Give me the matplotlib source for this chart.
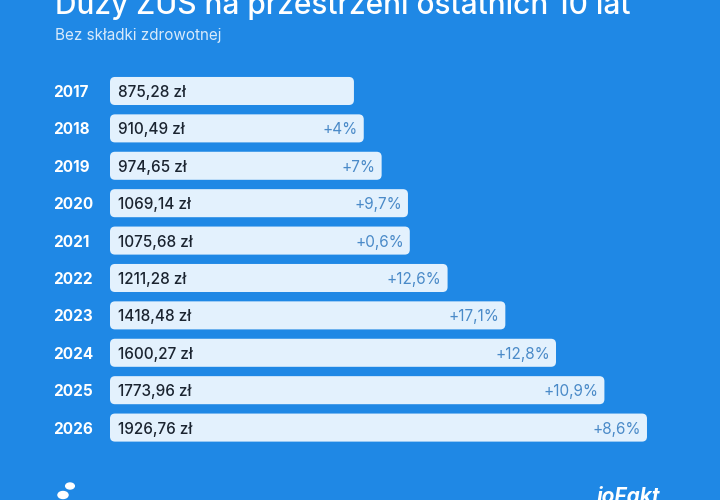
import matplotlib
matplotlib.use("Agg")
import matplotlib.pyplot as plt
from matplotlib.patches import FancyBboxPatch
from matplotlib.transforms import blended_transform_factory

# Duży ZUS (bez składki zdrowotnej), zł
years = ["2017", "2018", "2019", "2020", "2021", "2022", "2023", "2024", "2025", "2026"]
values = [875.28, 910.49, 974.65, 1069.14, 1075.68, 1211.28, 1418.48, 1600.27, 1773.96, 1926.76]
changes = ["", "+4%", "+7%", "+9,7%", "+0,6%", "+12,6%", "+17,1%", "+12,8%", "+10,9%", "+8,6%"]

title = "Duży ZUS na przestrzeni ostatnich 10 lat"
subtitle = "Bez składki zdrowotnej"

BG = "#1f88e5"
BAR = "#e3f1fd"
DARK = "#1b2430"
PCT = "#4a8ac8"

plt.rcParams["font.family"] = ["Inter", "DejaVu Sans"]

fig = plt.figure(figsize=(7.2, 5.0), dpi=100, facecolor=BG)

# axes: left edge = bar start (110 px), rows 37.4 px apart
ax = fig.add_axes([110 / 720, 50 / 500, 610 / 720, 380 / 500])
ax.set_facecolor(BG)
ax.set_xlim(0, 610 / 0.2787)
ax.set_ylim(-0.561 + 380 / 37.4, -0.561)
ax.axis("off")

bar_h = 0.75
rx = 18.0          # rounding in zł units
aspect = (5 / 37.4) / rx

for i, (yr, v, ch) in enumerate(zip(years, values, changes)):
    p = FancyBboxPatch((0, i - bar_h / 2), v, bar_h,
                       boxstyle=f"round,pad=0,rounding_size={rx}",
                       mutation_aspect=aspect, fc=BAR, ec="none")
    ax.add_patch(p)
    val_txt = f"{v:.2f}".replace(".", ",") + " zł"
    ax.text(30, i, val_txt, ha="left", va="center_baseline", fontsize=11,
            color=DARK, fontweight="medium")
    if ch:
        ax.text(v - 21, i, ch, ha="right", va="center_baseline", fontsize=11,
                color=PCT)

trans = blended_transform_factory(fig.transFigure, ax.transData)
for i, yr in enumerate(years):
    ax.text(53 / 720, i, yr, transform=trans, ha="left", va="center_baseline",
            fontsize=11, color="white", fontweight="bold")

fig.text(55 / 720, 1 - 14 / 500, title, ha="left", va="baseline",
         fontsize=21.5, color="white", fontweight="medium")
fig.text(55 / 720, 1 - 40 / 500, subtitle, ha="left", va="baseline",
         fontsize=11, color="#d8eafb")

# footer marks
fig.text(597 / 720, 1 - 487 / 500, "ioFakt", ha="left", va="top",
         fontsize=15, color="white", fontweight="bold", style="italic")
fig.patches.append(plt.Circle((70 / 720, 1 - 486 / 500), 0.006,
                              transform=fig.transFigure, color="white"))
fig.patches.append(plt.Circle((63 / 720, 1 - 495 / 500), 0.007,
                              transform=fig.transFigure, color="white"))

fig.savefig("out.png", dpi=100, facecolor=BG)
